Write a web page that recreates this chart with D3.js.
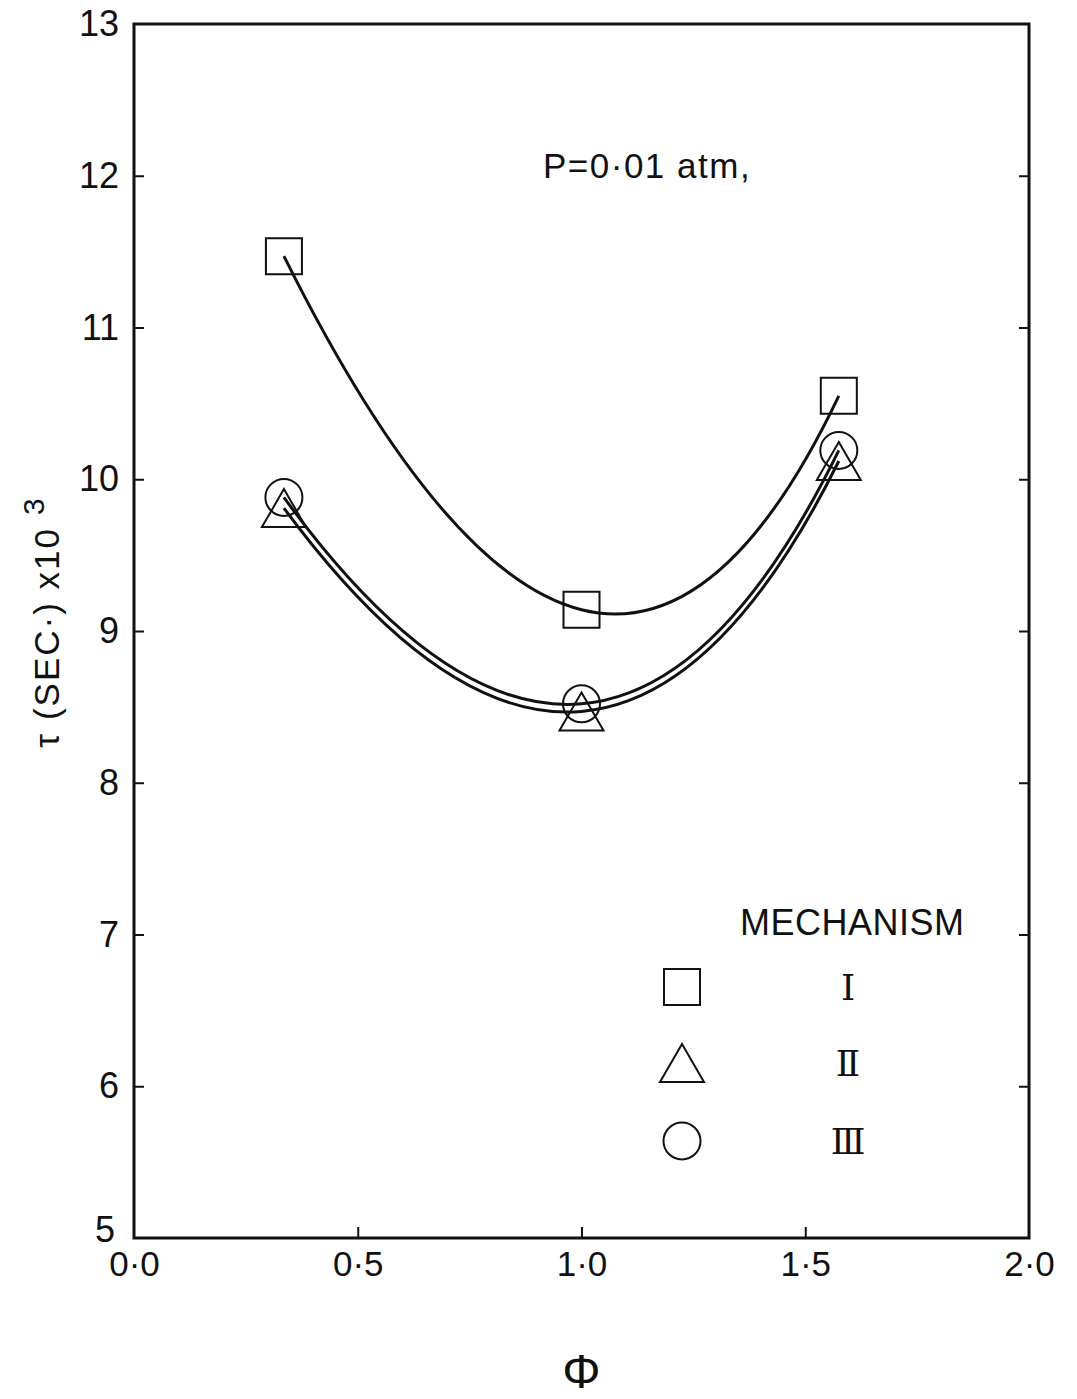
<!DOCTYPE html>
<html>
<head>
<meta charset="utf-8">
<script src="https://cdn.jsdelivr.net/npm/d3@7"></script>
<style>
  body { margin: 0; background: #fff; }
  svg { display: block; }
  text { font-family: "Liberation Sans", Arial, sans-serif; fill: #111; }
</style>
</head>
<body>
<div id="chart"></div>
<script>
// equivalence ratio (phi) and ignition delay (tau x 10^3, sec)
const phi = [0.335, 1.0, 1.575];
const mech1 = [11.47, 9.14, 10.55];   // squares
const mech2 = [9.81, 8.47, 10.12];    // triangles
const mech3 = [9.88, 8.52, 10.19];    // circles
const mechNames = ["\u2160", "\u2161", "\u2162"];
const xTicks = [0, 0.5, 1.0, 1.5, 2.0];
const yTicks = [5, 6, 7, 8, 9, 10, 11, 12, 13];

const width = 1077, height = 1399;
const margin = { top: 24, right: 48, bottom: 161, left: 134 };

const x = d3.scaleLinear()
    .domain([0, 2])
    .range([margin.left, width - margin.right]);

const y = d3.scaleLinear()
    .domain([5, 13])
    .range([height - margin.bottom, margin.top]);

const svg = d3.select("#chart").append("svg")
    .attr("width", width)
    .attr("height", height)
    .attr("viewBox", [0, 0, width, height]);

// frame
svg.append("rect")
    .attr("x", x(0))
    .attr("y", y(13))
    .attr("width", x(2) - x(0))
    .attr("height", y(5) - y(13))
    .attr("fill", "none")
    .attr("stroke", "#111")
    .attr("stroke-width", 3);

const fmtX = d => d3.format(".1f")(d).replace(".", "\u00b7");

const xAxis = g => g
    .attr("transform", `translate(0,${y(5)})`)
    .call(d3.axisBottom(x).tickValues(xTicks).tickFormat(fmtX).tickSizeInner(-11).tickSizeOuter(0).tickPadding(13))
    .call(g => g.select(".domain").remove())
    .call(g => g.selectAll(".tick line").attr("stroke", "#111").attr("stroke-width", 2)
        .filter(d => d === 0 || d === 2).remove())
    .call(g => g.selectAll(".tick text").attr("font-size", 35)
        .style("font-family", "Liberation Sans, Arial, sans-serif").attr("fill", "#111"));

const yAxis = g => g
    .attr("transform", `translate(${x(0)},0)`)
    .call(d3.axisLeft(y).tickValues(yTicks).tickFormat(d3.format("d")).tickSizeInner(-10).tickSizeOuter(0).tickPadding(15))
    .call(g => g.select(".domain").remove())
    .call(g => g.selectAll(".tick line").attr("stroke", "#111").attr("stroke-width", 2)
        .filter(d => d === 5 || d === 13).remove())
    .call(g => g.selectAll(".tick text").attr("font-size", 36)
        .style("font-family", "Liberation Sans, Arial, sans-serif").attr("fill", "#111"))
    .call(g => g.selectAll(".tick text").filter(d => d === 5).attr("dy", "0.1em").attr("dx", -4));

const yAxisRight = g => g
    .attr("transform", `translate(${x(2)},0)`)
    .call(d3.axisRight(y).tickValues(yTicks.slice(1, -1)).tickFormat("").tickSizeInner(-10).tickSizeOuter(0))
    .call(g => g.select(".domain").remove())
    .call(g => g.selectAll(".tick line").attr("stroke", "#111").attr("stroke-width", 2));

svg.append("g").call(xAxis);
svg.append("g").call(yAxis);
svg.append("g").call(yAxisRight);

// axis titles
svg.append("text")
    .attr("x", x(1))
    .attr("y", 1388)
    .attr("text-anchor", "middle")
    .attr("font-size", 48)
    .text("\u03a6");

const yTitle = svg.append("text")
    .attr("transform", `translate(59,622) rotate(-90)`)
    .attr("text-anchor", "middle")
    .attr("font-size", 35)
    .attr("letter-spacing", 2);
yTitle.append("tspan").text("\u03c4 (SEC\u00b7) x10");
yTitle.append("tspan").attr("dx", 12).attr("dy", -15).attr("font-size", 30).text("3");

svg.append("text")
    .attr("x", 543)
    .attr("y", 178)
    .attr("font-size", 35)
    .attr("letter-spacing", 1.5)
    .text("P=0\u00b701 atm,");

// smooth curve through three points: a parabolic arc (quadratic Bezier)
function curveArc(context) {
    let pts = [];
    return {
        areaStart() {}, areaEnd() {},
        lineStart() { pts = []; },
        point(px, py) { pts.push([px, py]); },
        lineEnd() {
            const [p0, p1, p2] = pts;
            context.moveTo(p0[0], p0[1]);
            context.quadraticCurveTo(
                2 * p1[0] - (p0[0] + p2[0]) / 2,
                2 * p1[1] - (p0[1] + p2[1]) / 2,
                p2[0], p2[1]);
        }
    };
}

const line = d3.line()
    .x(d => x(d[0]))
    .y(d => y(d[1]))
    .curve(curveArc);

const series = [
    { vals: mech1, shape: "square" },
    { vals: mech2, shape: "triangle" },
    { vals: mech3, shape: "circle" }
];

series.forEach(s => {
    svg.append("path")
        .datum(phi.map((p, i) => [p, s.vals[i]]))
        .attr("d", line)
        .attr("fill", "none")
        .attr("stroke", "#111")
        .attr("stroke-width", 3);
});

// marker shapes in pixel units
function shapePath(shape) {
    if (shape === "square") return "M-18,-18H18V18H-18Z";
    if (shape === "triangle") return "M0,-19L22,19H-22Z";
    return d3.arc()({ innerRadius: 0, outerRadius: 18.5, startAngle: 0, endAngle: 2 * Math.PI });
}

series.forEach(s => {
    svg.append("g").selectAll("path")
        .data(phi.map((p, i) => [p, s.vals[i]]))
        .join("path")
        .attr("transform", d => `translate(${x(d[0])},${y(d[1])})`)
        .attr("d", shapePath(s.shape))
        .attr("fill", "none")
        .attr("stroke", "#111")
        .attr("stroke-width", 2);
});

// legend
const legend = svg.append("g");
legend.append("text")
    .attr("x", 740)
    .attr("y", 935)
    .attr("font-size", 36)
    .attr("letter-spacing", 0.5)
    .text("MECHANISM");

const legendY = [987, 1063, 1141];
series.forEach((s, i) => {
    legend.append("path")
        .attr("transform", `translate(682,${legendY[i]})`)
        .attr("d", shapePath(s.shape))
        .attr("fill", "none")
        .attr("stroke", "#111")
        .attr("stroke-width", 2);
    legend.append("text")
        .attr("x", 848)
        .attr("y", legendY[i] + 13)
        .attr("text-anchor", "middle")
        .attr("font-size", 36)
        .style("font-family", "DejaVu Serif, Liberation Serif, serif")
        .text(mechNames[i]);
});
</script>
</body>
</html>
